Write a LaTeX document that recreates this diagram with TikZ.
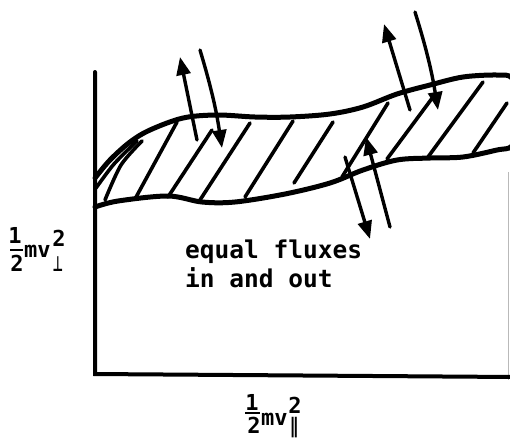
\documentclass[tikz,border=0pt]{standalone}
\usepackage{fontspec}
\usetikzlibrary{arrows.meta}
\newfontfamily\monofnt{DejaVu Sans Mono}
\newfontfamily\symfnt{DejaVu Sans}
\begin{document}
\begin{tikzpicture}[x=1pt,y=-1pt,
  axis/.style={line width=4pt, line cap=round},
  bandline/.style={line width=5pt, line cap=round, line join=round},
  hatch/.style={line width=3.6pt, line cap=round},
  flux/.style={line width=3.4pt, line cap=round, -{Triangle[length=18pt,width=14pt]}},
  txt/.style={font=\monofnt\bfseries\fontsize{24.5}{29}\selectfont, inner sep=0pt, anchor=base west},
  lbl/.style={font=\monofnt\bfseries\fontsize{22}{22}\selectfont, inner sep=0pt},
  sym/.style={font=\symfnt\bfseries\fontsize{21}{21}\selectfont, inner sep=0pt},
  ]
\useasboundingbox (0,0) rectangle (510,440);
\begin{scope}
\clip (0,0) rectangle (510,440);
% faint frame edge at right
\draw[gray!55, line width=1pt] (508.5,172) -- (508.5,380);
% axes
\coordinate (O) at (95,374);
\coordinate (ytop) at (95,72);
\coordinate (xend) at (514,377);
\draw[axis] (ytop) -- (O) -- (xend);
% band
\draw[bandline] plot[smooth, tension=0.55] coordinates {(95,178) (110,160) (130,142) (150,130) (183,118) (217,115) (255,117) (290,117) (330,114) (363,107) (397,94) (430,85) (463,77) (497,75) (512,78) (521,100) (521,125) (512,146) (497,150) (463,157) (430,158) (397,160) (363,170) (330,183) (285,194) (235,202) (202,202) (168,196) (118,201) (95,207)};
% hatching
\draw[hatch] plot[smooth] coordinates {(96,188) (114,164) (137,141)};
\draw[hatch] plot[smooth] coordinates {(105,200) (121,165) (142,141)};
\draw[hatch] (135,199) -- (177,122);
\draw[hatch] (168,197) -- (212,130);
\draw[hatch] (200,200) -- (250,123);
\draw[hatch] (245,197) -- (293,121);
\draw[hatch] (294,183) -- (333,122);
\draw[hatch] (342,177) -- (388,103);
\draw[hatch] (387,159) -- (433,97);
\draw[hatch] (428,157) -- (483,82);
\draw[hatch] (473,153) -- (507,103);
% flux arrows
\coordinate (a1s) at (197,140); \coordinate (a1e) at (180,57);
\coordinate (b1s) at (200,50);  \coordinate (b1e) at (222,148);
\coordinate (a2s) at (390,227); \coordinate (a2e) at (366,137);
\coordinate (b2s) at (345,157); \coordinate (b2e) at (370,239);
\coordinate (a3s) at (410,110); \coordinate (a3e) at (384,24);
\coordinate (b3s) at (415,12);  \coordinate (b3e) at (438,110);
\draw[flux] (a1s) -- (a1e);
\draw[flux] (b1s) to[bend left=4] (b1e);
\draw[flux] (a2s) -- (a2e);
\draw[flux] (b2s) -- (b2e);
\draw[flux] (a3s) -- (a3e);
\draw[flux] (b3s) to[bend left=4] (b3e);
\end{scope}
% text
\node[txt] (t1) at (185,258) {equal fluxes};
\node[txt] (t2) at (185,287) {in and out};
% vertical axis label
\node[lbl] (yone) at (15,235) {1};
\draw[line width=2.2pt] (10,250) -- (23,250);
\node[lbl] (ytwo) at (17,263) {2};
\node[lbl, anchor=base west] (ymv) at (24,257) {mv};
\node[lbl] (ysup) at (59,238) {2};
\node[sym, xscale=0.55] (ysub) at (58,264) {⊥};
% horizontal axis label
\node[lbl] (xone) at (252,402) {1};
\draw[line width=2.2pt] (245,413) -- (260,413);
\node[lbl] (xtwo) at (254,425) {2};
\node[lbl, anchor=base west] (xmv) at (261,425) {mv};
\node[lbl] (xsup) at (295,405) {2};
\node[sym, xscale=0.8] (xsub) at (294,428) {∥};
\end{tikzpicture}
\end{document}
